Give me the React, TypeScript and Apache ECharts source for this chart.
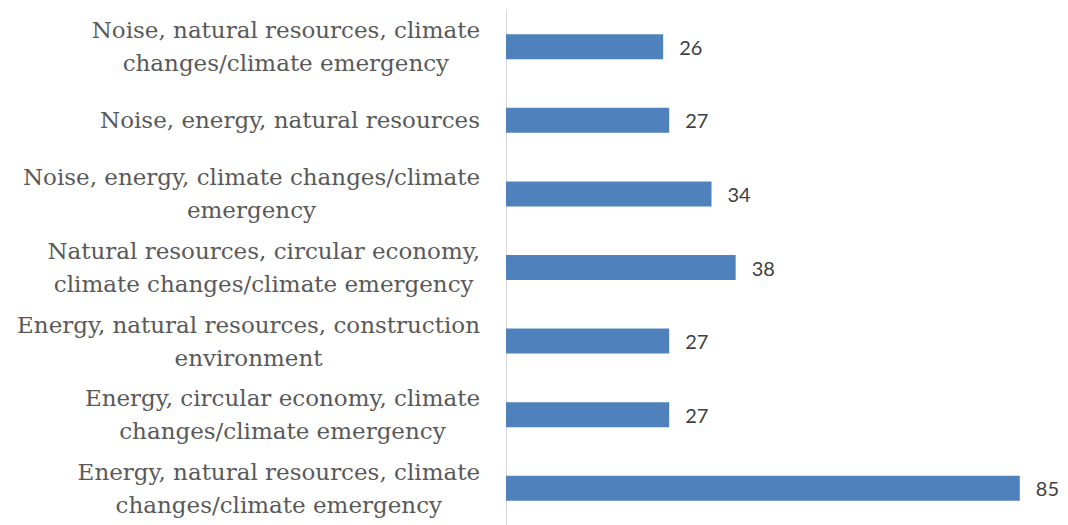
import React, { useEffect, useRef } from "react";
import * as echarts from "echarts";

const categories = [
  "Noise, natural resources, climate\nchanges/climate emergency",
  "Noise, energy, natural resources",
  "Noise, energy, climate changes/climate\nemergency",
  "Natural resources, circular economy,\nclimate changes/climate emergency",
  "Energy, natural resources, construction\nenvironment",
  "Energy, circular economy, climate\nchanges/climate emergency",
  "Energy, natural resources, climate\nchanges/climate emergency",
];
const values = [26, 27, 34, 38, 27, 27, 85];

export default function App() {
  const ref = useRef<HTMLDivElement>(null);
  useEffect(() => {
    const chart = echarts.init(ref.current!, null, { renderer: "svg" });
    chart.setOption({
      animation: false,
      grid: { left: 506, top: 10, width: 544, height: 518 },
      xAxis: {
        type: "value",
        min: 0,
        max: 90,
        show: false,
        splitLine: { show: false },
      },
      yAxis: {
        type: "category",
        inverse: true,
        data: categories,
        axisLine: { show: true, lineStyle: { color: "#d9d9d9", width: 1 } },
        axisTick: { show: false },
        axisLabel: {
          margin: 26,
          formatter: (v: string) =>
            v
              .split("\n")
              .map((l) => `{a|${l}}`)
              .join("\n"),
          rich: {
            a: {
              align: "center",
              fontFamily: "DejaVu Serif",
              fontSize: 23,
              color: "#595959",
              lineHeight: 33,
            },
          },
        },
      },
      series: [
        {
          type: "bar",
          data: values,
          barWidth: 25,
          itemStyle: { color: "#4f81bd" },
          label: {
            show: true,
            position: "right",
            distance: 16,
            fontFamily: "Lato",
            fontSize: 20,
            color: "#404040",
          },
        },
      ],
    });
    return () => chart.dispose();
  }, []);
  return (
    <div
      ref={ref}
      style={{ position: "fixed", left: 0, top: 0, width: 1068, height: 525, background: "#fff" }}
    />
  );
}
